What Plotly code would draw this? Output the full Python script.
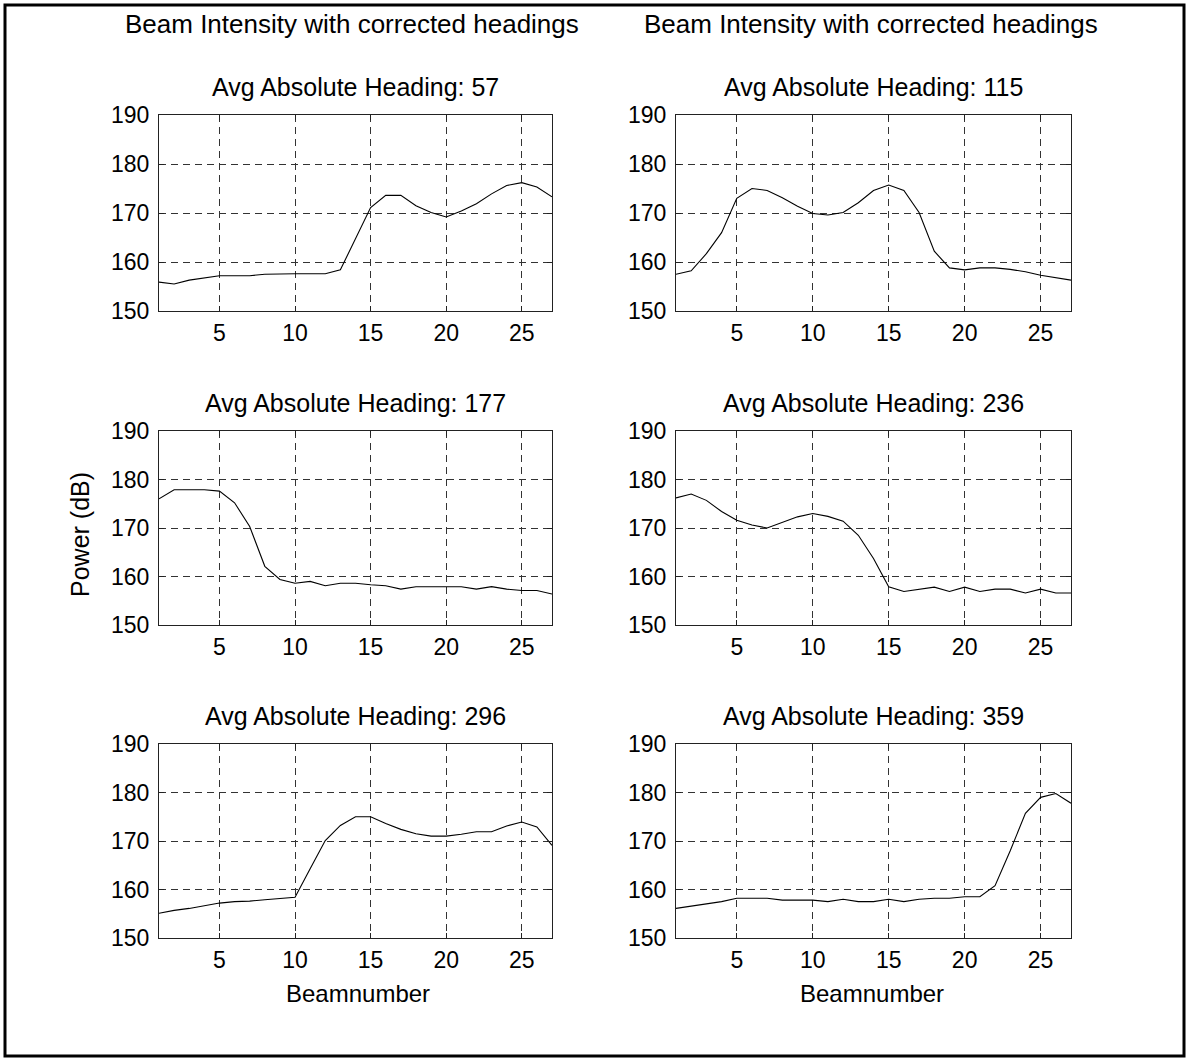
import plotly.graph_objects as go

# Beam numbers shared by every panel
beams = list(range(1, 28))

# Average absolute heading for each panel (row-major order)
headings = [57, 115, 177, 236, 296, 359]

# Received power per beam (dB), one list per heading
power_057 = [155.9, 155.5, 156.3, 156.7, 157.2, 157.2, 157.2, 157.5, 157.6, 157.6,
             157.6, 157.6, 158.4, 164.8, 171.1, 173.6, 173.6, 171.5, 170.1, 169.2,
             170.4, 171.9, 173.9, 175.6, 176.2, 175.3, 173.3]
power_115 = [157.5, 158.2, 161.7, 166.0, 173.0, 175.0, 174.6, 173.1, 171.4, 169.9,
             169.6, 170.1, 172.1, 174.6, 175.7, 174.6, 170.1, 162.2, 158.8, 158.4,
             158.8, 158.8, 158.5, 158.0, 157.3, 156.8, 156.3]
power_177 = [176.0, 177.9, 177.9, 177.9, 177.6, 175.2, 170.3, 162.1, 159.4, 158.6,
             159.0, 158.1, 158.6, 158.6, 158.3, 158.1, 157.4, 157.9, 157.9, 157.9,
             157.9, 157.4, 157.9, 157.4, 157.1, 157.1, 156.4]
power_236 = [176.2, 177.0, 175.7, 173.4, 171.6, 170.6, 170.0, 171.2, 172.3, 173.0,
             172.4, 171.4, 168.5, 163.7, 157.9, 156.9, 157.4, 157.8, 156.9, 157.8,
             156.9, 157.4, 157.4, 156.6, 157.4, 156.6, 156.6]
power_296 = [155.1, 155.7, 156.1, 156.7, 157.2, 157.5, 157.6, 157.9, 158.1, 158.4,
             164.3, 170.1, 173.2, 175.0, 175.0, 173.6, 172.4, 171.5, 171.0, 171.0,
             171.4, 171.9, 171.9, 173.1, 173.9, 172.9, 169.1]
power_359 = [156.1, 156.6, 157.0, 157.5, 158.2, 158.2, 158.2, 157.8, 157.8, 157.8,
             157.5, 158.0, 157.5, 157.5, 158.0, 157.5, 158.0, 158.2, 158.2, 158.5,
             158.5, 160.8, 168.0, 175.7, 179.0, 179.8, 177.8]

series = [power_057, power_115, power_177, power_236, power_296, power_359]

x_ticks = [5, 10, 15, 20, 25]
y_ticks = [150, 160, 170, 180, 190]

main_title = "Beam Intensity with corrected headings"
panel_title = "Avg Absolute Heading: {}"
x_label = "Beamnumber"
y_label = "Power (dB)"

W, H = 1188, 1059
FONT = "Liberation Sans, Arial, sans-serif"

# Panel boxes in pixels: columns (left, right), rows (top, bottom)
cols = [(159, 552), (676, 1071)]
rows = [(115, 311), (431, 625), (744, 938)]


def px(x):
    return x / W


def py(y):
    return 1 - y / H


fig = go.Figure()
annotations = []

for i, (h, ys) in enumerate(zip(headings, series)):
    r, c = divmod(i, 2)
    xa = "x" if i == 0 else f"x{i + 1}"
    ya = "y" if i == 0 else f"y{i + 1}"
    fig.add_trace(go.Scatter(x=beams, y=ys, mode="lines", xaxis=xa, yaxis=ya,
                             line=dict(color="black", width=1.1), showlegend=False))
    (l, rr), (t, b) = cols[c], rows[r]
    axis_common = dict(showline=True, linecolor="#222", linewidth=1.3, mirror="ticks",
                       ticks="inside", ticklen=5, tickcolor="#222", tickwidth=1,
                       showgrid=True, gridcolor="#333", gridwidth=1, griddash="7px,5px",
                       zeroline=False, automargin=False,
                       tickfont=dict(family=FONT, size=23, color="black"))
    fig.update_layout({
        ("xaxis" if i == 0 else f"xaxis{i + 1}"): dict(
            domain=[px(l), px(rr)], anchor=ya, range=[1, 27], tickvals=x_ticks,
            ticklabelstandoff=1, **axis_common),
        ("yaxis" if i == 0 else f"yaxis{i + 1}"): dict(
            domain=[py(b), py(t)], anchor=xa, range=[150, 190], tickvals=y_ticks,
            ticklabelstandoff=4, **axis_common),
    })
    annotations.append(dict(text=panel_title.format(h), x=px((l + rr) / 2), y=py(t - 28),
                            xref="paper", yref="paper", showarrow=False,
                            font=dict(family=FONT, size=25, color="black"),
                            xanchor="center", yanchor="middle"))

for c, cx in enumerate([352, 871]):
    annotations.append(dict(text=main_title, x=px(cx), y=py(24), xref="paper", yref="paper",
                            showarrow=False, font=dict(family=FONT, size=26, color="black"),
                            xanchor="center", yanchor="middle"))
    annotations.append(dict(text=x_label, x=px([358, 872][c]), y=py(993), xref="paper",
                            yref="paper", showarrow=False,
                            font=dict(family=FONT, size=24, color="black"),
                            xanchor="center", yanchor="middle"))

annotations.append(dict(text=y_label, x=px(80), y=py(535), xref="paper", yref="paper",
                        showarrow=False, textangle=-90,
                        font=dict(family=FONT, size=25, color="black"),
                        xanchor="center", yanchor="middle"))

fig.update_layout(
    width=W, height=H, margin=dict(l=0, r=0, t=0, b=0, autoexpand=False),
    paper_bgcolor="white", plot_bgcolor="white",
    annotations=annotations,
    shapes=[dict(type="rect", xref="paper", yref="paper",
                 x0=px(5), x1=px(1184), y0=py(1056), y1=py(5),
                 line=dict(color="black", width=3))],
)

fig.write_html("out.html")
